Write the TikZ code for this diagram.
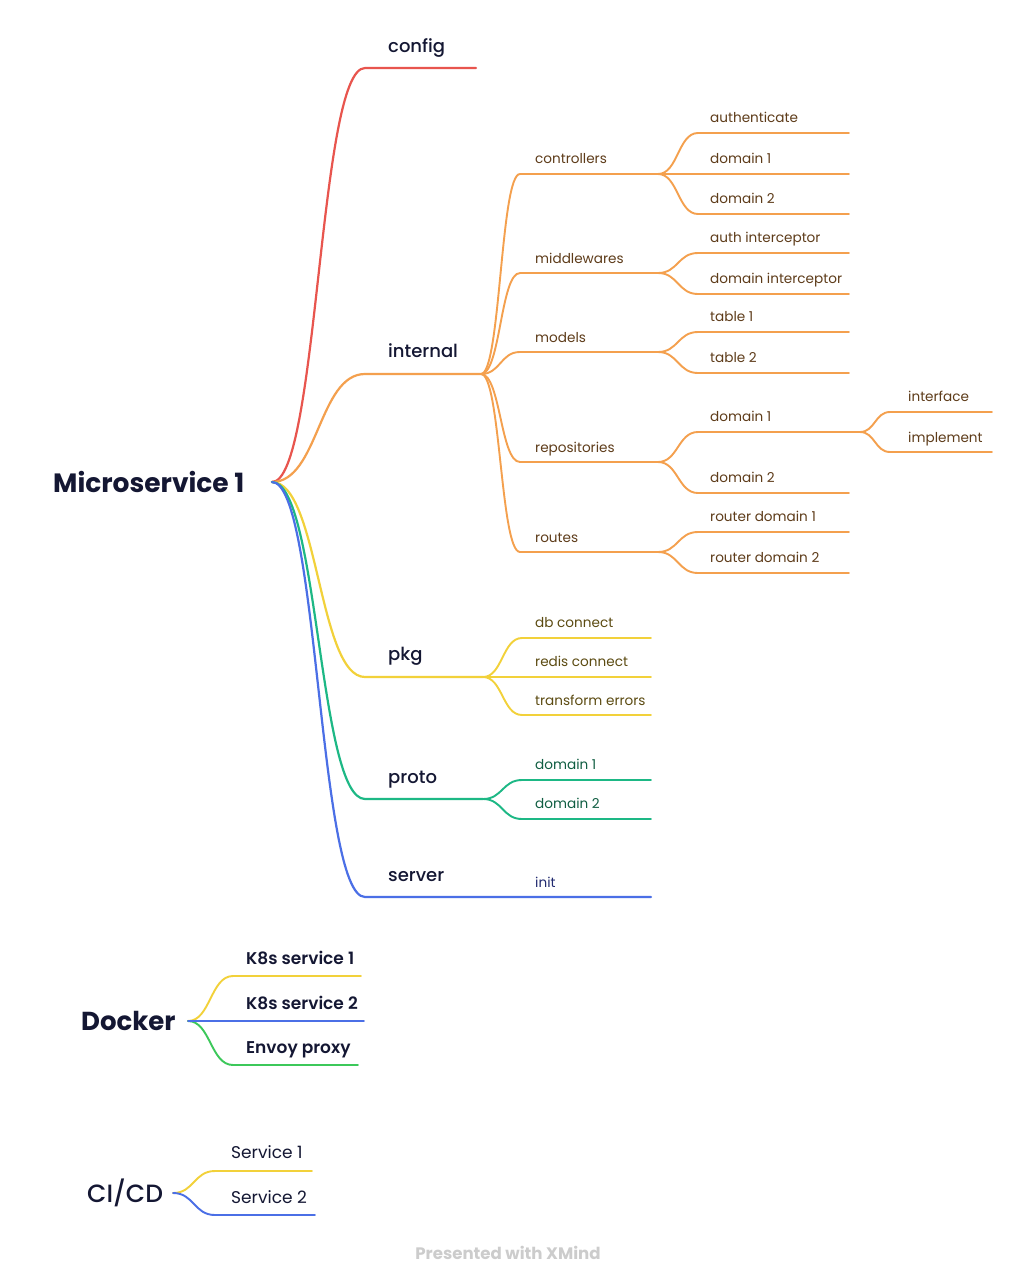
\documentclass[tikz,border=0pt]{standalone}
\usepackage{fontspec}
\setmainfont{Poppins}
\newfontfamily\medfont{Poppins Medium}
\newfontfamily\semifont{Poppins SemiBold}
\usetikzlibrary{calc}
\definecolor{cred}{HTML}{E8554E}
\definecolor{corange}{HTML}{F4A04E}
\definecolor{cyellow}{HTML}{F2D13A}
\definecolor{cteal}{HTML}{1DB885}
\definecolor{cblue}{HTML}{4B6FE6}
\definecolor{cgreen}{HTML}{3CC85A}
\definecolor{tnavy}{HTML}{141733}
\definecolor{tbrown}{HTML}{5E3C1A}
\definecolor{tolive}{HTML}{5C4B12}
\definecolor{tgreen}{HTML}{105E42}
\definecolor{tblue}{HTML}{222B70}
\newcommand\br[4]{\draw[#1] let \p1=(#2), \p2=(#3) in (#2) .. controls ({(\x1+\x2)/2},\y1) and ({(\x1+\x2)/2},\y2) .. (#3) -- (#4);}
\begin{document}
\begin{tikzpicture}[x=1pt,y=-1pt,
  lnmain/.style={line width=2.2pt,line cap=round},
  lnsub/.style={line width=1.9pt,line cap=round},
  roottxt/.style={anchor=base west,inner sep=0pt,font=\fontsize{26.5}{28}\selectfont\bfseries,text=tnavy},
  subtxt/.style={anchor=base west,inner sep=0pt,font=\fontsize{18}{20}\selectfont\medfont,text=tnavy},
  leaf/.style={anchor=base west,inner sep=0pt,font=\fontsize{13.6}{16}\selectfont},
  otxt/.style={leaf,text=tbrown},
  ytxt/.style={leaf,text=tolive},
  gtxt/.style={leaf,text=tgreen},
  btxt/.style={leaf,text=tblue},
  dtxt/.style={anchor=base west,inner sep=0pt,font=\fontsize{17}{19}\selectfont\semifont,text=tnavy},
  stxt/.style={anchor=base west,inner sep=0pt,font=\fontsize{17}{19}\selectfont,text=tnavy},
]
\useasboundingbox (0,0) rectangle (1017,1280);
\fill[white] (0,0) rectangle (1017,1280);

% ---------- Microservice 1 ----------
\node[roottxt] (ms) at (53,492) {Microservice 1};
\coordinate (root) at (272,482);

% config
\coordinate (cfgS) at (365,68); \coordinate (cfgE) at (476,68);
\node[subtxt] (cfg) at (388,52) {config};
\br{lnmain,cred}{root}{cfgS}{cfgE}

% internal
\coordinate (intS) at (365,374); \coordinate (intF) at (481,374);
\node[subtxt] (int) at (388,357) {internal};
\br{lnmain,corange}{root}{intS}{intF}

% pkg
\coordinate (pkgS) at (365,677); \coordinate (pkgF) at (483,677);
\node[subtxt] (pkg) at (388,660) {pkg};
\br{lnmain,cyellow}{root}{pkgS}{pkgF}

% proto
\coordinate (proS) at (365,799); \coordinate (proF) at (483,799);
\node[subtxt] (pro) at (388,783) {proto};
\br{lnmain,cteal}{root}{proS}{proF}

% server
\coordinate (srvS) at (365,897); \coordinate (srvE) at (651,897);
\node[subtxt] (srv) at (388,881) {server};
\br{lnmain,cblue}{root}{srvS}{srvE}
\node[btxt] (init) at (535,887) {init};

% ---------- internal children ----------
\coordinate (ctlS) at (520,174); \coordinate (ctlF) at (658,174);
\node[otxt] (ctl) at (535,163) {controllers};
\br{lnsub,corange}{intF}{ctlS}{ctlF}

\coordinate (mwS) at (520,273); \coordinate (mwF) at (658,273);
\node[otxt] (mw) at (535,263) {middlewares};
\br{lnsub,corange}{intF}{mwS}{mwF}

\coordinate (mdS) at (520,352); \coordinate (mdF) at (658,352);
\node[otxt] (md) at (535,342) {models};
\br{lnsub,corange}{intF}{mdS}{mdF}

\coordinate (rpS) at (520,462); \coordinate (rpF) at (658,462);
\node[otxt] (rp) at (535,452) {repositories};
\br{lnsub,corange}{intF}{rpS}{rpF}

\coordinate (rtS) at (520,552); \coordinate (rtF) at (658,552);
\node[otxt] (rt) at (535,542) {routes};
\br{lnsub,corange}{intF}{rtS}{rtF}

% controllers children
\coordinate (c1S) at (698,133); \coordinate (c1E) at (849,133);
\node[otxt] (c1) at (710,122) {authenticate};
\br{lnsub,corange}{ctlF}{c1S}{c1E}
\coordinate (c2S) at (698,174); \coordinate (c2E) at (849,174);
\node[otxt] (c2) at (710,163) {domain 1};
\br{lnsub,corange}{ctlF}{c2S}{c2E}
\coordinate (c3S) at (698,214); \coordinate (c3E) at (849,214);
\node[otxt] (c3) at (710,203) {domain 2};
\br{lnsub,corange}{ctlF}{c3S}{c3E}

% middlewares children
\coordinate (m1S) at (698,253); \coordinate (m1E) at (849,253);
\node[otxt] (m1) at (710,242) {auth interceptor};
\br{lnsub,corange}{mwF}{m1S}{m1E}
\coordinate (m2S) at (698,294); \coordinate (m2E) at (849,294);
\node[otxt] (m2) at (710,283) {domain interceptor};
\br{lnsub,corange}{mwF}{m2S}{m2E}

% models children
\coordinate (t1S) at (698,332); \coordinate (t1E) at (849,332);
\node[otxt] (t1) at (710,321) {table 1};
\br{lnsub,corange}{mdF}{t1S}{t1E}
\coordinate (t2S) at (698,373); \coordinate (t2E) at (849,373);
\node[otxt] (t2) at (710,362) {table 2};
\br{lnsub,corange}{mdF}{t2S}{t2E}

% repositories children
\coordinate (r1S) at (698,432); \coordinate (r1F) at (860,432);
\node[otxt] (r1) at (710,421) {domain 1};
\br{lnsub,corange}{rpF}{r1S}{r1F}
\coordinate (r2S) at (698,493); \coordinate (r2E) at (849,493);
\node[otxt] (r2) at (710,482) {domain 2};
\br{lnsub,corange}{rpF}{r2S}{r2E}

% repositories / domain 1 children
\coordinate (i1S) at (890,412); \coordinate (i1E) at (992,412);
\node[otxt] (i1) at (908,401) {interface};
\br{lnsub,corange}{r1F}{i1S}{i1E}
\coordinate (i2S) at (890,452); \coordinate (i2E) at (992,452);
\node[otxt] (i2) at (908,442) {implement};
\br{lnsub,corange}{r1F}{i2S}{i2E}

% routes children
\coordinate (o1S) at (698,532); \coordinate (o1E) at (849,532);
\node[otxt] (o1) at (710,521) {router domain 1};
\br{lnsub,corange}{rtF}{o1S}{o1E}
\coordinate (o2S) at (698,573); \coordinate (o2E) at (849,573);
\node[otxt] (o2) at (710,562) {router domain 2};
\br{lnsub,corange}{rtF}{o2S}{o2E}

% ---------- pkg children ----------
\coordinate (p1S) at (522,638); \coordinate (p1E) at (651,638);
\node[ytxt] (p1) at (535,627) {db connect};
\br{lnsub,cyellow}{pkgF}{p1S}{p1E}
\coordinate (p2S) at (522,677); \coordinate (p2E) at (651,677);
\node[ytxt] (p2) at (535,666) {redis connect};
\br{lnsub,cyellow}{pkgF}{p2S}{p2E}
\coordinate (p3S) at (522,715); \coordinate (p3E) at (651,715);
\node[ytxt] (p3) at (535,705) {transform errors};
\br{lnsub,cyellow}{pkgF}{p3S}{p3E}

% ---------- proto children ----------
\coordinate (q1S) at (522,780); \coordinate (q1E) at (651,780);
\node[gtxt] (q1) at (535,769) {domain 1};
\br{lnsub,cteal}{proF}{q1S}{q1E}
\coordinate (q2S) at (522,819); \coordinate (q2E) at (651,819);
\node[gtxt] (q2) at (535,808) {domain 2};
\br{lnsub,cteal}{proF}{q2S}{q2E}

% ---------- Docker ----------
\node[anchor=base west,inner sep=0pt,font=\fontsize{26}{28}\selectfont\bfseries,text=tnavy] (dock) at (81,1030) {Docker};
\coordinate (dF) at (188,1021);
\coordinate (d1S) at (233,976); \coordinate (d1E) at (361,976);
\coordinate (d2S) at (233,1021); \coordinate (d2E) at (364,1021);
\coordinate (d3S) at (233,1065); \coordinate (d3E) at (358,1065);
\br{lnsub,cyellow}{dF}{d1S}{d1E}
\br{lnsub,cgreen}{dF}{d3S}{d3E}
\br{lnsub,cblue}{dF}{d2S}{d2E}
\node[dtxt] (k1) at (246,964) {K8s service 1};
\node[dtxt] (k2) at (246,1009) {K8s service 2};
\node[dtxt] (k3) at (246,1053) {Envoy proxy};

% ---------- CI/CD ----------
\node[anchor=base west,inner sep=0pt,font=\fontsize{25}{27}\selectfont\medfont,text=tnavy] (ci) at (87,1202) {CI/CD};
\coordinate (ciF) at (173,1193);
\coordinate (s1S) at (215,1171); \coordinate (s1E) at (312,1171);
\coordinate (s2S) at (215,1215); \coordinate (s2E) at (315,1215);
\br{lnsub,cyellow}{ciF}{s1S}{s1E}
\br{lnsub,cblue}{ciF}{s2S}{s2E}
\node[stxt] (s1) at (231,1158) {Service 1};
\node[stxt] (s2) at (231,1203) {Service 2};

% footer
\node[anchor=base,inner sep=0pt,font=\fontsize{16.6}{18}\selectfont\bfseries,text=black!20] (foot) at (508,1259) {Presented with XMind};
\end{tikzpicture}
\end{document}
